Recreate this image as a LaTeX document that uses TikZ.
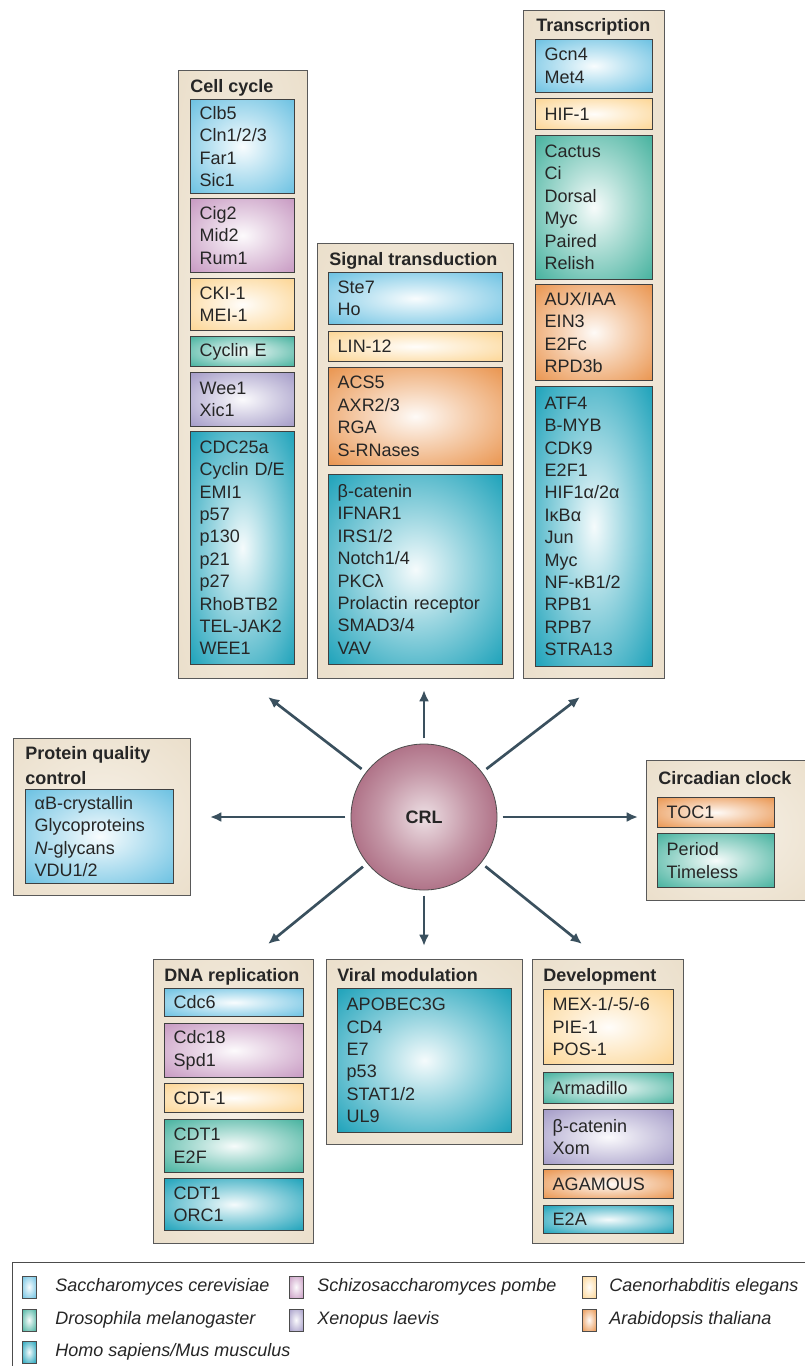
\documentclass[tikz,border=0pt]{standalone}
\usepackage{fontspec}
\setmainfont{Liberation Sans}
\usepackage{tikz}
\usetikzlibrary{arrows.meta}

\definecolor{scblue}{RGB}{88,185,222}
\definecolor{sppink}{RGB}{192,140,186}
\definecolor{ceyellow}{RGB}{252,208,134}
\definecolor{dmgreen}{RGB}{46,168,146}
\definecolor{xlviolet}{RGB}{152,142,192}
\definecolor{atorange}{RGB}{231,135,56}
\definecolor{hsteal}{RGB}{0,150,177}
\definecolor{crlred}{RGB}{136,44,76}
\definecolor{panelbg}{RGB}{230,216,192}
\definecolor{panelmid}{RGB}{246,240,230}
\definecolor{spokecol}{RGB}{58,80,94}
\definecolor{inktext}{RGB}{38,38,38}

\newcommand{\speciesshade}[2]{%
  \pgfdeclareradialshading{#1}{\pgfpoint{0bp}{0bp}}{color(0bp)=(white!96!#2); color(14bp)=(white!62!#2); color(34bp)=(white!15!#2); color(47bp)=(#2); color(75bp)=(#2)}}
\speciesshade{scershade}{scblue}
\speciesshade{spomshade}{sppink}
\speciesshade{celeshade}{ceyellow}
\speciesshade{dmelshade}{dmgreen}
\speciesshade{xlaeshade}{xlviolet}
\speciesshade{athashade}{atorange}
\speciesshade{hsapshade}{hsteal}
\pgfdeclareradialshading{panelshade}{\pgfpoint{0bp}{0bp}}{color(0bp)=(panelmid); color(50bp)=(panelbg); color(75bp)=(panelbg)}
\pgfdeclareradialshading{crlshade}{\pgfpoint{0bp}{0bp}}{color(0bp)=(white!85!crlred); color(16bp)=(white!50!crlred); color(36bp)=(white!14!crlred); color(50bp)=(crlred); color(75bp)=(crlred)}

\begin{document}
\begin{tikzpicture}[x=0.75pt, y=-0.75pt, font=\fontsize{13.5}{16.8}\selectfont]

\tikzset{panel/.style = {draw=black!65, line width=0.7pt, shade, shading=panelshade, anchor=north west, inner sep=0pt}}
\tikzset{psz/.style 2 args = {minimum width=#1*0.75pt, minimum height=#2*0.75pt}}
\tikzset{ttl/.style = {anchor=base west, inner sep=0pt, text=inktext, font=\fontsize{13.5}{16.8}\selectfont\bfseries}}
\tikzset{spbox/.style = {draw=black!75, line width=0.6pt, anchor=north west, inner xsep=7pt, inner ysep=0pt, align=left, text=inktext}}
\tikzset{sz/.style 2 args = {minimum width=#1*0.75pt, minimum height=#2*0.75pt, text width=#1*0.75pt-14pt}}
\tikzset{scer/.style = {shade, shading=scershade}}
\tikzset{spom/.style = {shade, shading=spomshade}}
\tikzset{cele/.style = {shade, shading=celeshade}}
\tikzset{dmel/.style = {shade, shading=dmelshade}}
\tikzset{xlae/.style = {shade, shading=xlaeshade}}
\tikzset{atha/.style = {shade, shading=athashade}}
\tikzset{hsap/.style = {shade, shading=hsapshade}}
\tikzset{crlball/.style = {circle, draw=black!70, line width=0.6pt, shade, shading=crlshade, minimum size=109.5pt, inner sep=0pt, text=inktext, font=\fontsize{13.5}{16.8}\selectfont\bfseries}}
\tikzset{spoke/.style = {-{Latex[length=8.5pt,width=7.5pt]}, draw=spokecol, line width=2pt, shorten <=4pt}}
\tikzset{swatch/.style = {draw=black!70, line width=0.5pt, minimum width=10.5pt, minimum height=16.5pt, inner sep=0pt}}
\tikzset{lgd/.style = {anchor=west, inner sep=0pt, text=inktext, font=\fontsize{13.5}{16.8}\selectfont\itshape}}

\useasboundingbox (0,0) rectangle (805,1366);
\clip (0,0) rectangle (805,1366);
\fill[white] (0,0) rectangle (805,1366);

% panels
\node[panel, psz={129}{608}] (cc) at (178,70) {};
\node[panel, psz={196}{435}] (st) at (317,243) {};
\node[panel, psz={141}{668}] (tr) at (523,10) {};
\node[panel, psz={177}{157}] (pq) at (13,738) {};
\node[panel, psz={170}{140}] (cl) at (646,760) {};
\node[panel, psz={160}{284}] (dr) at (153,959) {};
\node[panel, psz={196}{185}] (vm) at (326,959) {};
\node[panel, psz={151}{284}] (dv) at (532,959) {};

% titles
\node[ttl] (ccttl) at (190,93) {Cell cycle};
\node[ttl] (stttl) at (329,265) {Signal transduction};
\node[ttl] (trttl) at (536,32) {Transcription};
\node[ttl, anchor=north west, align=left, font=\fontsize{13.5}{19}\selectfont\bfseries] (pqttl) at (25,746) {Protein quality\\control};
\node[ttl] (clttl) at (658,784) {Circadian clock};
\node[ttl] (drttl) at (164,981) {DNA replication};
\node[ttl] (vmttl) at (337,981) {Viral modulation};
\node[ttl] (dvttl) at (543,981) {Development};

% cell cycle
\node[spbox, scer, sz={104}{94}] (cc1) at (190,99) {Clb5\\Cln1/2/3\\Far1\\Sic1};
\node[spbox, spom, sz={104}{74}] (cc2) at (190,198) {Cig2\\Mid2\\Rum1};
\node[spbox, cele, sz={104}{52}] (cc3) at (190,278) {CKI-1\\MEI-1};
\node[spbox, dmel, sz={104}{30}] (cc4) at (190,336) {Cyclin~E};
\node[spbox, xlae, sz={104}{54}] (cc5) at (190,372) {Wee1\\Xic1};
\node[spbox, hsap, sz={104}{233}] (cc6) at (190,431) {CDC25a\\Cyclin~D/E\\EMI1\\p57\\p130\\p21\\p27\\RhoBTB2\\TEL-JAK2\\WEE1};

% signal transduction
\node[spbox, scer, sz={174}{52}] (st1) at (328,272) {Ste7\\Ho};
\node[spbox, cele, sz={174}{30}] (st2) at (328,331) {LIN-12};
\node[spbox, atha, sz={174}{98}] (st3) at (328,367) {ACS5\\AXR2/3\\RGA\\S-RNases};
\node[spbox, hsap, sz={174}{190}] (st4) at (328,474) {β-catenin\\IFNAR1\\IRS1/2\\Notch1/4\\PKCλ\\Prolactin receptor\\SMAD3/4\\VAV};

% transcription
\node[spbox, scer, sz={117}{53}] (tr1) at (535,39) {Gcn4\\Met4};
\node[spbox, cele, sz={117}{31}] (tr2) at (535,98) {HIF-1};
\node[spbox, dmel, sz={117}{144}] (tr3) at (535,135) {Cactus\\Ci\\Dorsal\\Myc\\Paired\\Relish};
\node[spbox, atha, sz={117}{96}] (tr4) at (535,284) {AUX/IAA\\EIN3\\E2Fc\\RPD3b};
\node[spbox, hsap, sz={117}{280}] (tr5) at (535,386) {ATF4\\B-MYB\\CDK9\\E2F1\\HIF1α/2α\\IκBα\\Jun\\Myc\\NF-κB1/2\\RPB1\\RPB7\\STRA13};

% protein quality control
\node[spbox, scer, sz={148}{94}] (pq1) at (25,789) {αB-crystallin\\Glycoproteins\\\textit{N}-glycans\\VDU1/2};

% circadian clock
\node[spbox, atha, sz={117}{30}] (cl1) at (657,797) {TOC1};
\node[spbox, dmel, sz={117}{54}] (cl2) at (657,833) {Period\\Timeless};

% dna replication
\node[spbox, scer, sz={139}{28}] (dr1) at (164,988) {Cdc6};
\node[spbox, spom, sz={139}{54}] (dr2) at (164,1023) {Cdc18\\Spd1};
\node[spbox, cele, sz={139}{29}] (dr3) at (164,1083) {CDT-1};
\node[spbox, dmel, sz={139}{53}] (dr4) at (164,1119) {CDT1\\E2F};
\node[spbox, hsap, sz={139}{52}] (dr5) at (164,1178) {CDT1\\ORC1};

% viral modulation
\node[spbox, hsap, sz={174}{144}] (vm1) at (337,988) {APOBEC3G\\CD4\\E7\\p53\\STAT1/2\\UL9};

% development
\node[spbox, cele, sz={130}{75}] (dv1) at (543,989) {MEX-1/-5/-6\\PIE-1\\POS-1};
\node[spbox, dmel, sz={130}{31}] (dv2) at (543,1072) {Armadillo};
\node[spbox, xlae, sz={130}{55}] (dv3) at (543,1109) {β-catenin\\Xom};
\node[spbox, atha, sz={130}{29}] (dv4) at (543,1169) {AGAMOUS};
\node[spbox, hsap, sz={130}{28}] (dv5) at (543,1205) {E2A};

% hub
\node[crlball] (crl) at (424,817) {CRL};

% arrow tips
\coordinate (tcc) at (268,697);
\coordinate (tst) at (424,690);
\coordinate (ttr) at (580,697);
\coordinate (tpq) at (210,817);
\coordinate (tcl) at (638,817);
\coordinate (tdr) at (268,944);
\coordinate (tvm) at (424,946);
\coordinate (tdv) at (582,944);

% arrows
\draw[spoke] (crl) -- (tcc);
\draw[spoke] (crl) -- (tst);
\draw[spoke] (crl) -- (ttr);
\draw[spoke] (crl) -- (tpq);
\draw[spoke] (crl) -- (tcl);
\draw[spoke] (crl) -- (tdr);
\draw[spoke] (crl) -- (tvm);
\draw[spoke] (crl) -- (tdv);

% legend
\node[draw=black!70, line width=0.7pt, fill=white, anchor=north west, inner sep=0pt, psz={830}{140}] (key) at (12,1262) {};
\node[swatch, scer] (k1) at (29,1287) {};
\node[lgd] (k1t) at (55,1287) {Saccharomyces cerevisiae};
\node[swatch, spom] (k2) at (296,1287) {};
\node[lgd] (k2t) at (317,1287) {Schizosaccharomyces pombe};
\node[swatch, cele] (k3) at (589,1287) {};
\node[lgd] (k3t) at (609,1287) {Caenorhabditis elegans};
\node[swatch, dmel] (k4) at (29,1320) {};
\node[lgd] (k4t) at (55,1320) {Drosophila melanogaster};
\node[swatch, xlae] (k5) at (296,1320) {};
\node[lgd] (k5t) at (317,1320) {Xenopus laevis};
\node[swatch, atha] (k6) at (589,1320) {};
\node[lgd] (k6t) at (609,1320) {Arabidopsis thaliana};
\node[swatch, hsap] (k7) at (29,1352) {};
\node[lgd] (k7t) at (55,1352) {Homo sapiens/Mus musculus};

\end{tikzpicture}
\end{document}
